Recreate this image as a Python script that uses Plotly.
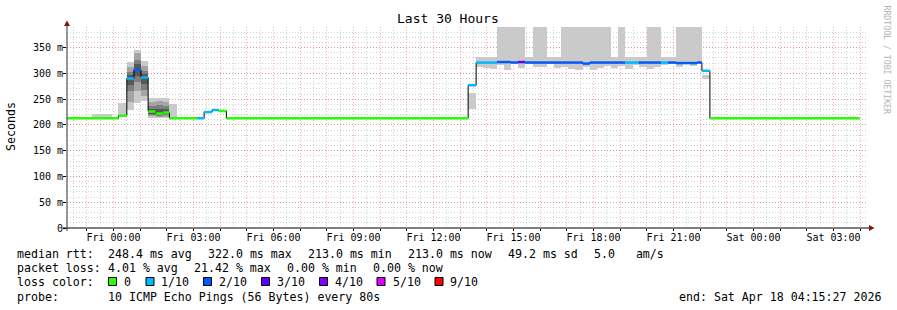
import plotly.graph_objects as go
from datetime import datetime, timedelta

# ------------------------------------------------------------------ data
seg_start = [
    "2026-04-16 22:15:27", "2026-04-16 23:11", "2026-04-16 23:56",
    "2026-04-17 00:11", "2026-04-17 00:30", "2026-04-17 00:46", "2026-04-17 01:02",
    "2026-04-17 01:18", "2026-04-17 01:35", "2026-04-17 01:52", "2026-04-17 02:06",
    "2026-04-17 02:23", "2026-04-17 03:09", "2026-04-17 03:24", "2026-04-17 03:42",
    "2026-04-17 03:57", "2026-04-17 04:14", "2026-04-17 13:18",
    "2026-04-17 13:36", "2026-04-17 13:51", "2026-04-17 14:07", "2026-04-17 14:23",
    "2026-04-17 14:39", "2026-04-17 14:54", "2026-04-17 15:10", "2026-04-17 15:26",
    "2026-04-17 15:44", "2026-04-17 16:00", "2026-04-17 16:15", "2026-04-17 16:31",
    "2026-04-17 16:47", "2026-04-17 17:03", "2026-04-17 17:18", "2026-04-17 17:36",
    "2026-04-17 17:52", "2026-04-17 18:08", "2026-04-17 18:24", "2026-04-17 18:39",
    "2026-04-17 18:55", "2026-04-17 19:11", "2026-04-17 19:29", "2026-04-17 19:42",
    "2026-04-17 20:00", "2026-04-17 20:16", "2026-04-17 20:32", "2026-04-17 20:48",
    "2026-04-17 21:06", "2026-04-17 21:21", "2026-04-17 21:37", "2026-04-17 21:53",
    "2026-04-17 22:04", "2026-04-17 22:22",
]
seg_end = "2026-04-18 03:58:30"

# median rtt per segment (ms)
seg_median = [
    213, 213, 213, 218, 290, 307, 292, 226, 222, 224, 213, 213, 213, 225, 229, 227, 213, 277,
    321, 321, 321, 322, 322, 321, 322, 321, 321, 321, 321, 321, 321, 321, 321, 319,
    321, 321, 321, 321, 321, 321, 321, 321, 321, 321, 321, 321, 320, 320, 320, 321,
    305, 213,
]
# lost pings out of 10 per segment
seg_loss = [
    0, 0, 0, 0, 1, 2, 1, 0, 0, 0, 0, 0, 1, 1, 1, 0, 0, 1,
    1, 1, 1, 2, 2, 2, 3, 2, 2, 2, 2, 2, 2, 2, 2, 2,
    2, 2, 2, 2, 2, 1, 1, 2, 2, 2, 1, 2, 2, 2, 2, 2,
    1, 0,
]

# smoke bands (segment index, low ms, high ms) - outermost to innermost
smoke1_idx = [1, 3, 4, 5, 6, 7, 8, 9, 10, 17,
              18, 19, 20, 21, 22, 23, 24, 25, 26, 27, 28, 29, 30, 31, 32, 33,
              34, 35, 36, 37, 38, 39, 40, 41, 42, 43, 44, 45, 46, 47, 48, 49, 50]
smoke1_lo = [213, 219, 229, 242, 246, 214, 213, 213, 215, 230,
             313, 310, 308, 316, 307, 320, 310, 320, 313, 312, 318, 310, 312, 308, 307, 313,
             307, 311, 314, 311, 314, 309, 316, 313, 308, 313, 316, 318, 313, 320, 314, 320, 289]
smoke1_hi = [221, 243, 322, 345, 324, 252, 252, 252, 240, 262,
             331, 331, 331, 450, 450, 450, 450, 331, 450, 450, 331, 331, 450, 450, 450, 450,
             450, 450, 450, 331, 450, 331, 331, 331, 450, 450, 331, 331, 450, 450, 450, 450, 297]
smoke2_idx = [4, 5, 6, 7, 8, 9]
smoke2_lo = [245, 265, 256, 217, 216, 216]
smoke2_hi = [313, 339, 315, 245, 246, 245]
smoke3_idx = [4, 5, 6, 7, 8, 9]
smoke3_lo = [265, 284, 268, 220, 218, 219]
smoke3_hi = [303, 326, 305, 236, 238, 236]
smoke4_idx = [4, 5, 6, 7, 8, 9]
smoke4_lo = [278, 295, 280, 222, 220, 221]
smoke4_hi = [297, 318, 298, 230, 230, 230]

x_range = ["2026-04-16 22:15:27", "2026-04-18 04:15:27"]
x_label_vals = ["2026-04-17 00:00", "2026-04-17 03:00", "2026-04-17 06:00", "2026-04-17 09:00",
                "2026-04-17 12:00", "2026-04-17 15:00", "2026-04-17 18:00", "2026-04-17 21:00",
                "2026-04-18 00:00", "2026-04-18 03:00"]
x_label_text = ["Fri 00:00", "Fri 03:00", "Fri 06:00", "Fri 09:00", "Fri 12:00",
                "Fri 15:00", "Fri 18:00", "Fri 21:00", "Sat 00:00", "Sat 03:00"]
y_tick_vals = [0, 50, 100, 150, 200, 250, 300, 350]
y_tick_text = ["0", "50 m", "100 m", "150 m", "200 m", "250 m", "300 m", "350 m"]
y_range = [0, 390]

title_text = "Last 30 Hours"
y_title = "Seconds"
stats_rtt = ["median rtt:", "248.4 ms avg", "322.0 ms max", "213.0 ms min",
             "213.0 ms now", "49.2 ms sd", "5.0   am/s"]
stats_loss = ["packet loss:", "4.01 % avg", "21.42 % max", "0.00 % min", "0.00 % now"]
loss_levels = [0, 1, 2, 3, 4, 5, 9]
loss_labels = ["0", "1/10", "2/10", "3/10", "4/10", "5/10", "9/10"]
probe_text = ["probe:", "10 ICMP Echo Pings (56 Bytes) every 80s"]
end_text = "end: Sat Apr 18 04:15:27 2026"
watermark = "RRDTOOL / TOBI OETIKER"

# ------------------------------------------------------------------ styles
LOSS_COLORS = {0: "#26ff00", 1: "#00b8ff", 2: "#0059ff", 3: "#5e00ff", 4: "#7e00ff",
               5: "#dd00ff", 9: "#ff0000"}
SMOKE_COLORS = ["#cacaca", "#a4a4a4", "#7e7e7e", "#585858"]
MONO = "DejaVu Sans Mono"
MGRID = "rgba(240,60,60,0.42)"
GRID = "rgba(130,130,130,0.35)"
DOT = "1px,2px"

W, H = 897, 310
ML, MR, MT, MB = 67, 30, 27, 82
PW, PH = W - ML - MR, H - MT - MB


def px(x):
    return (x - ML) / PW


def py(y):
    return (H - MB - y) / PH


def T(s):
    return datetime.strptime(s if s.count(":") == 2 else s + ":00", "%Y-%m-%d %H:%M:%S")


starts = [T(s) for s in seg_start]
ends = starts[1:] + [T(seg_end)]

fig = go.Figure()

# smoke
bands = [(smoke1_idx, smoke1_lo, smoke1_hi), (smoke2_idx, smoke2_lo, smoke2_hi),
         (smoke3_idx, smoke3_lo, smoke3_hi), (smoke4_idx, smoke4_lo, smoke4_hi)]
for lvl, (idx, lo, hi) in enumerate(bands):
    xs, ws, bs, hs = [], [], [], []
    for i, l, h in zip(idx, lo, hi):
        s, e = starts[i], ends[i]
        xs.append(s + (e - s) / 2)
        ws.append((e - s).total_seconds() * 1000)
        bs.append(l)
        hs.append(h - l)
    fig.add_trace(go.Bar(x=xs, y=hs, base=bs, width=ws,
                         marker=dict(color=SMOKE_COLORS[lvl], line=dict(width=0)),
                         hoverinfo="skip", showlegend=False))

# black median step line
fig.add_trace(go.Scatter(x=starts + [ends[-1]], y=seg_median + [seg_median[-1]], mode="lines",
                         line=dict(color="black", width=1, shape="hv"),
                         hoverinfo="skip", showlegend=False))

# loss coloured median segments
for lvl in sorted(set(seg_loss)):
    xs, ys = [], []
    for s, e, m, l in zip(starts, ends, seg_median, seg_loss):
        if l == lvl:
            xs += [s, e, None]
            ys += [m, m, None]
    fig.add_trace(go.Scatter(x=xs, y=ys, mode="lines",
                             line=dict(color=LOSS_COLORS[lvl], width=2.5),
                             hoverinfo="skip", showlegend=False))

# axes
hour_vals = []
t = T("2026-04-16 23:00")
while t <= T(x_range[1]):
    hour_vals.append(t)
    t += timedelta(hours=1)
label_map = {T(v): txt for v, txt in zip(x_label_vals, x_label_text)}
hour_text = [label_map.get(v, "") for v in hour_vals]
half_vals = [v + timedelta(minutes=30) for v in hour_vals] + [T("2026-04-16 22:30")]

fig.update_xaxes(type="date", range=[T(x_range[0]), T(x_range[1])], tickmode="array",
                 tickvals=hour_vals, ticktext=hour_text, showgrid=True, gridcolor=MGRID,
                 griddash=DOT, gridwidth=1, ticks="outside", ticklen=2, tickcolor="black",
                 tickfont=dict(family=MONO, size=10, color="black"), showline=False,
                 zeroline=False, ticklabelstandoff=-2,
                 minor=dict(tickmode="array", tickvals=half_vals, showgrid=True, gridcolor=GRID,
                            griddash=DOT, gridwidth=1, ticks=""))
fig.update_yaxes(range=y_range, tickmode="array", tickvals=y_tick_vals, ticktext=y_tick_text,
                 showgrid=True, gridcolor=MGRID, griddash=DOT, gridwidth=1,
                 ticks="outside", ticklen=3, tickcolor="black",
                 tickfont=dict(family=MONO, size=10, color="black"), showline=False,
                 zeroline=False, ticklabelstandoff=-2,
                 minor=dict(dtick=10, tick0=0, showgrid=True, gridcolor=GRID, griddash=DOT,
                            gridwidth=1, ticks=""))

shapes = []
# axis lines
shapes.append(dict(type="line", xref="paper", yref="paper", x0=px(63), x1=px(870),
                   y0=py(228), y1=py(228), line=dict(color="black", width=1)))
shapes.append(dict(type="line", xref="paper", yref="paper", x0=px(67), x1=px(67),
                   y0=py(231), y1=py(24), line=dict(color="#303030", width=1)))


def tri(points):
    return "M " + " L ".join(f"{px(a)},{py(b)}" for a, b in points) + " Z"


# arrows
shapes.append(dict(type="path", xref="paper", yref="paper",
                   path=tri([(64, 26), (70, 26), (67, 20.5)]),
                   fillcolor="#8b1010", line=dict(width=0)))
shapes.append(dict(type="path", xref="paper", yref="paper",
                   path=tri([(869, 225), (869, 231), (874.5, 228)]),
                   fillcolor="#8b1010", line=dict(width=0)))

# legend boxes
box_x = [108.5, 146, 203.5, 261.5, 319.5, 377, 435]
lab_x = [123, 160, 218, 276, 334, 391.5, 449]
for bx, lvl in zip(box_x, loss_levels):
    shapes.append(dict(type="rect", xref="paper", yref="paper", x0=px(bx), x1=px(bx + 8),
                       y0=py(285.5), y1=py(277.5), fillcolor=LOSS_COLORS[lvl],
                       line=dict(color="black", width=1)))

ann = []


def text(x, y, s, size=11.6, anchor="left", color="black", angle=0):
    ann.append(dict(x=px(x), y=py(y), xref="paper", yref="paper", text=s, showarrow=False,
                    xanchor=anchor, yanchor="middle", borderpad=0, textangle=angle,
                    font=dict(family=MONO, size=size, color=color)))


text(448, 19, title_text, size=13, anchor="center")
text(11, 126, y_title, size=11.6, anchor="center", angle=-90)
text(886.5, 60, watermark, size=8.2, anchor="center", color="#b4b4b4", angle=90)

for x, s in zip([16, 107, 207, 307, 407, 506.5, 593], stats_rtt):
    text(x, 254, s)
for x, s in zip([16, 107, 193, 286, 372], stats_loss):
    text(x, 268, s)
text(16, 282, "loss color:")
for x, s in zip(lab_x, loss_labels):
    text(x, 282, s)
text(16, 296.5, probe_text[0])
text(107, 296.5, probe_text[1])
text(678, 296.5, end_text)

fig.update_layout(width=W, height=H, margin=dict(l=ML, r=MR, t=MT, b=MB, pad=0),
                  paper_bgcolor="white", plot_bgcolor="white", barmode="overlay", bargap=0,
                  showlegend=False, shapes=shapes, annotations=ann,
                  font=dict(family=MONO, size=10, color="black"))

fig.write_html("out.html")
